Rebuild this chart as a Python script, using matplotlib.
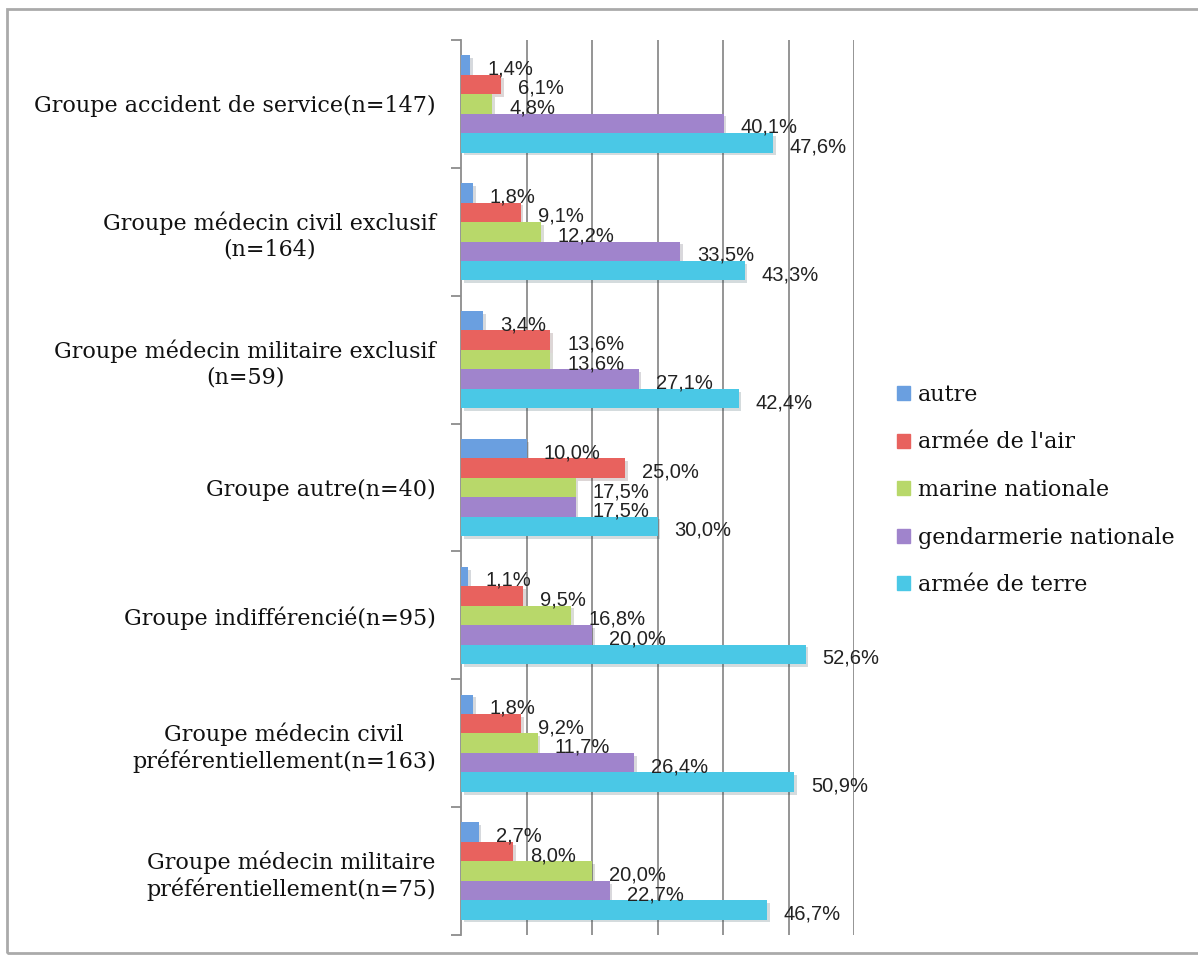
import matplotlib
matplotlib.use("Agg")
import matplotlib.pyplot as plt
import matplotlib.patches as mpatches
import matplotlib.patheffects as pe
import numpy as np

groups = [
    "Groupe accident de service(n=147)",
    "Groupe médecin civil exclusif\n(n=164)",
    "Groupe médecin militaire exclusif\n(n=59)",
    "Groupe autre(n=40)",
    "Groupe indifférencié(n=95)",
    "Groupe médecin civil\npréférentiellement(n=163)",
    "Groupe médecin militaire\npréférentiellement(n=75)",
]
series = ["autre", "armée de l'air", "marine nationale",
          "gendarmerie nationale", "armée de terre"]
autre = [1.4, 1.8, 3.4, 10.0, 1.1, 1.8, 2.7]
air = [6.1, 9.1, 13.6, 25.0, 9.5, 9.2, 8.0]
marine = [4.8, 12.2, 13.6, 17.5, 16.8, 11.7, 20.0]
gendarmerie = [40.1, 33.5, 27.1, 17.5, 20.0, 26.4, 22.7]
terre = [47.6, 43.3, 42.4, 30.0, 52.6, 50.9, 46.7]
colors = ["#6a9fe0", "#e8625e", "#b8d86a", "#a084cc", "#4ac8e6"]

values = [autre, air, marine, gendarmerie, terre]
serif = "DejaVu Serif"
sans = "Liberation Sans"

fig = plt.figure(figsize=(11.98, 9.55), dpi=100)
ax = fig.add_axes([461/1198, 1 - 935/955, (854 - 461)/1198, (935 - 40)/955])

y = np.arange(len(groups))
h = 0.152
shadow = [pe.SimplePatchShadow(offset=(2, -2), alpha=0.18), pe.Normal()]
for k, vals in enumerate(values):
    pos = y + (k - 2) * h
    bars = ax.barh(pos, vals, height=h, color=colors[k], label=series[k],
                   zorder=3, linewidth=0)
    for b in bars:
        b.set_path_effects(shadow)
    for p, v in zip(pos, vals):
        ax.annotate(f"{v:.1f}%".replace(".", ","), (v, p), xytext=(17, -4),
                    textcoords="offset pixels", ha="left", va="center",
                    fontsize=14.5, family=sans, color="#222222", zorder=4)

ax.set_xlim(0, 60)
ax.set_ylim(len(groups) - 0.5, -0.5)
ax.set_xticks(np.arange(10, 61, 10))
ax.tick_params(axis="x", length=0, labelbottom=False)
ax.grid(axis="x", color="#8c8c8c", linewidth=1.3, zorder=0)

ax.set_yticks(np.arange(-0.5, len(groups) + 0.5, 1))
ax.set_yticklabels([])
ax.tick_params(axis="y", which="major", length=7, width=1.3, color="#8c8c8c")
ax.set_yticks(y, minor=True)
ax.set_yticklabels(groups, minor=True, fontsize=16, family=serif,
                   multialignment="center", color="#111111")
ax.tick_params(axis="y", which="minor", length=0, pad=18)

for s in ["top", "right", "bottom"]:
    ax.spines[s].set_visible(False)
ax.spines["left"].set_color("#8c8c8c")
ax.spines["left"].set_linewidth(1.3)

handles = [mpatches.Patch(color=c) for c in colors]
fig.legend(handles, series, loc="center left",
           bbox_to_anchor=(877/1198, 1 - 490/955), frameon=False,
           prop={"family": serif, "size": 16}, handlelength=0.6,
           handleheight=0.6, handletextpad=0.35, labelspacing=1.15,
           labelcolor="#111111")

frame = mpatches.Rectangle((7/1198, 2/955), 1.1, 1 - 11/955,
                           transform=fig.transFigure, fill=False,
                           edgecolor="#aaaaaa", linewidth=2)
fig.patches.append(frame)

fig.savefig("out.png", dpi=100)
